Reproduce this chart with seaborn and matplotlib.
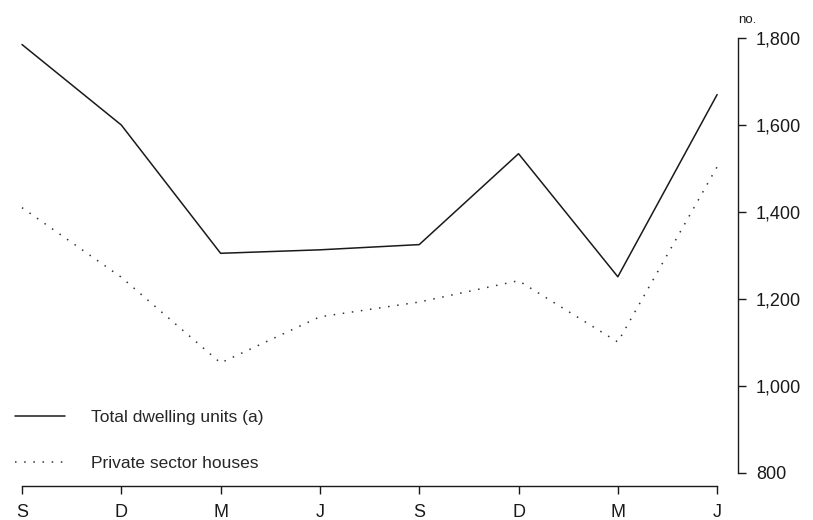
import numpy as np
import pandas as pd
import matplotlib
matplotlib.use("Agg")
import matplotlib.pyplot as plt
import seaborn as sns

# quarter labels (Sep, Dec, Mar, Jun over two years)
months = ['S', 'D', 'M', 'J', 'S', 'D', 'M', 'J']
total_units = [1785, 1600, 1305, 1313, 1325, 1534, 1251, 1670]
private_houses = [1410, 1250, 1053, 1159, 1193, 1242, 1101, 1504]
series_names = ['Total dwelling units (a)', 'Private sector houses']
y_ticks = [800, 1000, 1200, 1400, 1600, 1800]

sns.set_theme(style='white')
plt.rcParams['font.family'] = ['Liberation Sans', 'DejaVu Sans']

pos = np.arange(len(months))
df = pd.DataFrame({
    'pos': np.concatenate([pos, pos]),
    'value': total_units + private_houses,
    'series': [series_names[0]] * len(pos) + [series_names[1]] * len(pos),
})

fig = plt.figure(figsize=(8.13, 5.20), dpi=100)
ax = fig.add_axes([19 / 813, 34 / 520, 719 / 813, 448 / 520])

sns.lineplot(
    data=df, x='pos', y='value', hue='series', style='series',
    palette={series_names[0]: '#1a1a1a', series_names[1]: '#333333'},
    dashes={series_names[0]: '', series_names[1]: (1, 5)},
    linewidth=1.1, ax=ax, legend=False,
)

ax.set_xlim(-0.03, 7.21)
ax.set_ylim(770, 1800)

# axis styling: y axis on the right, x axis at the bottom
for side in ['top', 'left']:
    ax.spines[side].set_visible(False)
ax.spines['right'].set_bounds(800, 1800)
ax.spines['bottom'].set_bounds(0, 7)
for side in ['right', 'bottom']:
    ax.spines[side].set_color('#1a1a1a')
    ax.spines[side].set_linewidth(1.0)

ax.yaxis.tick_right()
ax.set_yticks(y_ticks)
ax.set_yticklabels([f'{v:,}' for v in y_ticks])
ax.set_xticks(pos)
ax.set_xticklabels(months)
ax.tick_params(axis='y', direction='out', length=6, width=1.0, pad=7,
               labelsize=13, colors='#1a1a1a', right=True, left=False)
ax.tick_params(axis='x', direction='out', length=6, width=1.0, pad=7,
               labelsize=13, colors='#1a1a1a', bottom=True)
ax.set_xlabel('')
ax.set_ylabel('')
ax.grid(False)

fig.text(738 / 813, 1 - 20 / 520, 'no.', fontsize=9.5, ha='left', va='center',
         color='#1a1a1a')

handles = [
    plt.Line2D([], [], color='#1a1a1a', lw=1.1),
    plt.Line2D([], [], color='#333333', lw=1.1, dashes=(1, 5)),
]
ax.legend(handles, series_names, loc='upper left',
          bbox_to_anchor=(15 / 813, 1 - 410 / 520),
          bbox_transform=fig.transFigure, frameon=False, fontsize=12.5,
          handlelength=2.9, handletextpad=1.45, labelspacing=1.78,
          borderpad=0, borderaxespad=0)

fig.savefig('out.png', dpi=100)
